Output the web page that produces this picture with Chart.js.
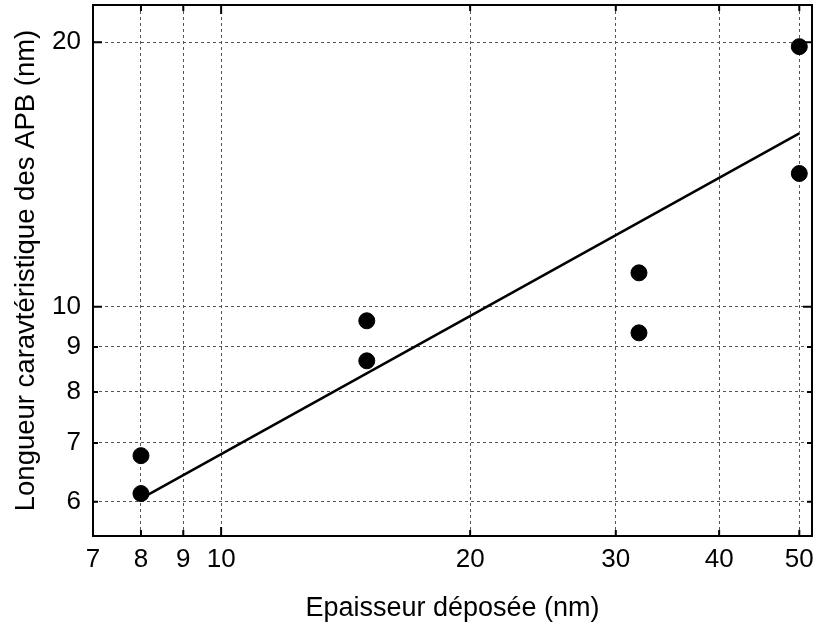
<!DOCTYPE html>
<html>
<head>
<meta charset="utf-8">
<script src="https://cdn.jsdelivr.net/npm/chart.js@4/dist/chart.umd.min.js"></script>
<style>
html,body{margin:0;padding:0;background:#fff;}
#wrap{width:817px;height:628px;}
</style>
</head>
<body>
<div id="wrap"><canvas id="c" width="817" height="628"></canvas></div>
<script>
const xTicks = [7, 8, 9, 10, 20, 30, 40, 50];
const yTicks = [6, 7, 8, 9, 10, 20];
const thickness = [8, 8, 15, 15, 32, 32, 50, 50];
const apbLength = [6.77, 6.13, 9.64, 8.68, 10.93, 9.34, 19.77, 14.18];
const fitX = [8, 50];
const fitY = [6.05, 15.75];
const xTitle = 'Epaisseur déposée (nm)';
const yTitle = 'Longueur caravtéristique des APB (nm)';

const FONT = "'Liberation Sans', Arial, sans-serif";

const framePlugin = {
  id: 'frame',
  afterDraw(chart) {
    const ctx = chart.ctx, a = chart.chartArea;
    const xs = chart.scales.x, ys = chart.scales.y;
    ctx.save();
    ctx.strokeStyle = '#000';
    ctx.setLineDash([]);
    ctx.lineWidth = 2;
    xTicks.forEach(v => {
      const px = xs.getPixelForValue(v);
      const len = (v === 10) ? 9 : 6;
      ctx.beginPath();
      ctx.moveTo(px, a.bottom); ctx.lineTo(px, a.bottom - len);
      ctx.moveTo(px, a.top); ctx.lineTo(px, a.top + len);
      ctx.stroke();
    });
    yTicks.forEach(v => {
      const py = ys.getPixelForValue(v);
      const len = (v === 10 || v === 20) ? 9 : 5;
      ctx.beginPath();
      ctx.moveTo(a.left, py); ctx.lineTo(a.left + len, py);
      ctx.moveTo(a.right, py); ctx.lineTo(a.right - len, py);
      ctx.stroke();
    });
    ctx.strokeRect(a.left, a.top, a.right - a.left, a.bottom - a.top);
    ctx.restore();
  }
};

new Chart(document.getElementById('c'), {
  type: 'scatter',
  data: {
    datasets: [
      {
        type: 'line',
        data: fitX.map((x, i) => ({x: x, y: fitY[i]})),
        borderColor: '#000',
        borderWidth: 2.5,
        pointRadius: 0,
        fill: false,
        order: 2
      },
      {
        type: 'scatter',
        data: thickness.map((x, i) => ({x: x, y: apbLength[i]})),
        backgroundColor: '#000',
        borderColor: '#000',
        pointRadius: 8,
        pointHoverRadius: 8,
        order: 1
      }
    ]
  },
  options: {
    responsive: false,
    animation: false,
    devicePixelRatio: 1,
    layout: { autoPadding: false, padding: { top: 5, right: 5, left: 0, bottom: 0 } },
    plugins: { legend: { display: false }, tooltip: { enabled: false } },
    scales: {
      x: {
        type: 'logarithmic',
        min: 7,
        max: 51.8,
        afterBuildTicks: s => { s.ticks = xTicks.map(v => ({value: v})); },
        afterFit: s => { s.height = 92; s.paddingLeft = 0; s.paddingRight = 0; },
        ticks: {
          autoSkip: false,
          maxRotation: 0,
          padding: 8,
          color: '#000',
          font: { family: FONT, size: 26 },
          callback: v => String(v)
        },
        grid: {
          drawTicks: false,
          color: '#555',
          lineWidth: 1
        },
        border: { display: false, dash: [3, 3] },
        title: {
          display: true,
          text: xTitle,
          color: '#000',
          font: { family: FONT, size: 27 },
          padding: { top: 0, bottom: 3 }
        }
      },
      y: {
        type: 'logarithmic',
        min: 5.485,
        max: 22.05,
        afterBuildTicks: s => { s.ticks = yTicks.map(v => ({value: v})); },
        afterFit: s => { s.width = 93; s.paddingTop = 0; s.paddingBottom = 0; },
        ticks: {
          autoSkip: false,
          padding: 12,
          color: '#000',
          font: { family: FONT, size: 26 },
          callback: v => String(v)
        },
        grid: {
          drawTicks: false,
          color: '#555',
          lineWidth: 1
        },
        border: { display: false, dash: [3, 3] },
        title: {
          display: true,
          text: yTitle,
          color: '#000',
          font: { family: FONT, size: 27.5 },
          padding: { top: 10, bottom: 0 }
        }
      }
    }
  },
  plugins: [framePlugin]
});
</script>
</body>
</html>
